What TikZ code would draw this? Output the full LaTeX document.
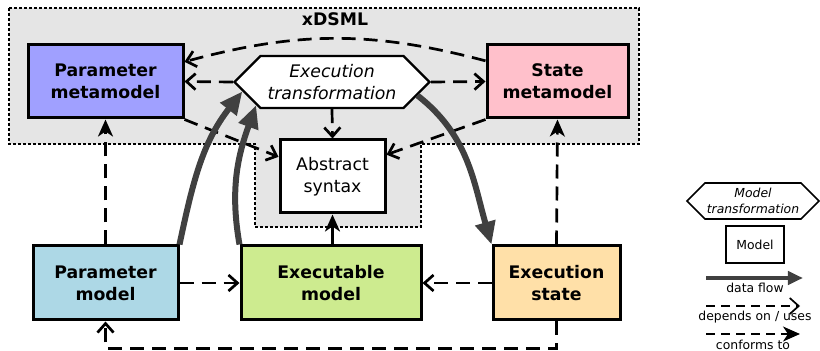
\documentclass[tikz,border=0pt]{standalone}
\usepackage{fontspec}
\setmainfont{DejaVu Sans}
\usetikzlibrary{shapes.symbols, arrows.meta, positioning, calc}
\definecolor{bgcol}{HTML}{E5E5E5}
\definecolor{flowcol}{HTML}{404040}
\definecolor{pmmcol}{HTML}{A0A0FF}
\definecolor{smmcol}{HTML}{FFC0CB}
\definecolor{pmcol}{HTML}{ADD8E6}
\definecolor{emcol}{HTML}{CDEB8F}
\definecolor{escol}{HTML}{FFE0A8}

\begin{document}
\begin{tikzpicture}[x=1pt,y=1pt,
  every node/.style={font=\fontsize{17.3}{22}\selectfont, align=center},
  legtext/.style={font=\fontsize{12.4}{16}\selectfont},
  box/.style={draw, line width=3pt, inner sep=0pt},
  mbox/.style={box, font=\fontsize{17.3}{22}\selectfont\bfseries},
  hexa/.style={draw, fill=white, line width=2.2pt, shape=signal, signal to=east and west,
    signal pointer angle=90, inner sep=0pt},
  dep/.style={line width=2.7pt, dash pattern=on 14pt off 8pt,
    -{Straight Barb[length=9pt,width=16pt]}},
  conf/.style={line width=2.7pt, dash pattern=on 14pt off 8pt,
    -{Stealth[length=17pt,width=15pt,inset=5pt]}},
  flow/.style={line width=6pt, draw=flowcol, -{Triangle[length=0pt 3.8,width=0pt 3.3]}}]
  \useasboundingbox (0,0) rectangle (820,351);

  % xDSML area
  \fill[bgcol] (9,343) -- (639,343) -- (639,207) -- (421,207) -- (421,124)
    -- (255,124) -- (255,207) -- (9,207) -- cycle;
  \draw[line width=2.6pt, dash pattern=on 2.6pt off 2.4pt] (9,343) -- (639,343) -- (639,207)
    -- (421,207) -- (421,124) -- (255,124) -- (255,207) -- (9,207) -- cycle;
  \node[font=\fontsize{17.3}{22}\selectfont\bfseries] (xdsml) at (335,332) {xDSML};

  \node[mbox, fill=pmmcol, minimum width=155pt, minimum height=73pt] (pmm) at (105.5,269.5) {Parameter\\metamodel};
  \node[mbox, fill=smmcol, minimum width=141pt, minimum height=73pt] (smm) at (557.5,269.5) {State\\metamodel};
  \node[hexa, minimum width=195pt, minimum height=52pt] (et) at (332,269) {\itshape Execution\\\itshape transformation};
  \node[box, fill=white, minimum width=105pt, minimum height=73pt] (as) at (332.5,174.5) {Abstract\\syntax};

  \node[mbox, fill=pmcol, minimum width=145pt, minimum height=74pt] (pm) at (105.5,68) {Parameter\\model};
  \node[mbox, fill=emcol, minimum width=180pt, minimum height=74pt] (em) at (331,68) {Executable\\model};
  \node[mbox, fill=escol, minimum width=127pt, minimum height=74pt] (es) at (556.5,68) {Execution\\state};

  % dependencies
  \draw[dep] (et.west) -- (pmm.east);
  \draw[dep] (et.east) -- (smm.west);
  \draw[dep] (smm.164) to[bend right=15] (pmm.14);
  \draw[dep] (et.south) -- (as.north);
  \draw[dep] (pmm.south east) -- (as.160);
  \draw[dep] (smm.south west) -- (as.22);
  \draw[dep] (pm.east) -- (em.west);
  \draw[dep] (es.west) -- (em.east);
  \draw[dep] (es.south) -- ++(0,-27) -| (pm.south);

  % conformance
  \foreach \a/\b in {pm/pmm,es/smm}{
    \draw[conf] (\a.north) -- (\b.south);
  }
  \draw[conf, solid] (as.south |- em.north) -- (as.south);

  % data flow
  \draw[flow] (pm.north east) to[out=78,in=232] (et.186);
  \draw[flow] (em.north west) to[out=100,in=250] (et.197);
  \draw[flow] (et.-9) to[out=-38,in=106] (es.north west);

  % legend
  \node[hexa, legtext, line width=1.6pt, minimum width=132pt, minimum height=36pt] (lhex) at (753,150)
    {\itshape Model\\\itshape transformation};
  \node[box, legtext, line width=2pt, fill=white, minimum width=58pt, minimum height=37pt] (lmodel) at (755,106.5) {Model};
  \coordinate (lf1) at (706,73);
  \coordinate (lf2) at (803,73);
  \draw[flow, line width=4pt] (lf1) -- (lf2);
  \node[legtext] (lflow) at (755,63) {data flow};
  \coordinate (ld1) at (706,45);
  \coordinate (ld2) at (800,45);
  \draw[dep, line width=1.7pt, dash pattern=on 9pt off 6pt] (ld1) -- (ld2);
  \node[legtext] (ldep) at (755,34) {depends on / uses};
  \coordinate (lc1) at (706,17);
  \coordinate (lc2) at (800,17);
  \draw[conf, line width=1.7pt, dash pattern=on 9pt off 6pt] (lc1) -- (lc2);
  \node[legtext] (lconf) at (753,6) {conforms to};
\end{tikzpicture}
\end{document}
